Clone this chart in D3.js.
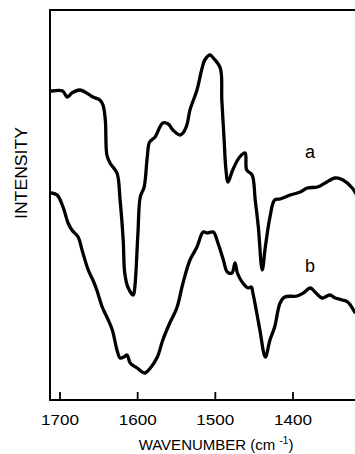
<!DOCTYPE html>
<html>
<head>
<meta charset="utf-8">
<script src="https://cdn.jsdelivr.net/npm/d3@7"></script>
<style>
  body { margin: 0; background: #fff; }
  svg { display: block; font-family: "Liberation Sans", Arial, sans-serif; }
</style>
</head>
<body>
<svg id="chart"></svg>
<script>
// wavenumber (cm-1) and relative intensity
var waveA = [1710, 1696, 1690, 1684, 1674, 1663, 1657, 1648, 1644, 1641, 1639, 1635, 1626, 1622, 1618, 1616, 1612, 1605, 1603, 1599, 1596, 1591, 1587, 1584, 1577, 1567, 1560, 1554, 1545, 1541, 1536, 1532, 1523, 1517, 1513, 1506, 1502, 1493, 1491, 1488, 1486, 1483, 1477, 1468, 1461, 1459, 1452, 1448, 1444, 1439, 1435, 1429, 1423, 1416, 1403, 1390, 1381, 1368, 1358, 1345, 1335, 1323, 1319];
var intensA = [309, 309, 303, 307, 310, 306, 303, 300, 295, 280, 245, 237, 227, 200, 160, 127, 113, 105, 113, 167, 203, 213, 243, 258, 263, 277, 276, 270, 265, 267, 275, 290, 310, 330, 340, 345, 342, 332, 300, 260, 233, 218, 230, 243, 247, 230, 225, 200, 173, 130, 153, 183, 200, 201, 205, 208, 212, 213, 217, 222, 220, 212, 207];

var waveB = [1710, 1703, 1695, 1689, 1684, 1676, 1671, 1663, 1657, 1652, 1645, 1639, 1632, 1626, 1622, 1617, 1613, 1609, 1600, 1590, 1583, 1574, 1567, 1558, 1549, 1541, 1532, 1523, 1515, 1510, 1502, 1496, 1489, 1484, 1478, 1474, 1471, 1464, 1457, 1453, 1451, 1446, 1442, 1435, 1429, 1423, 1416, 1410, 1394, 1386, 1377, 1371, 1362, 1352, 1345, 1336, 1329, 1320];
var intensB = [207, 205, 192, 177, 170, 163, 150, 130, 120, 110, 93, 83, 70, 50, 42, 43, 45, 37, 32, 27, 32, 43, 60, 77, 92, 117, 140, 153, 168, 167, 168, 157, 140, 128, 127, 137, 127, 117, 112, 113, 107, 87, 70, 43, 60, 73, 97, 103, 104, 107, 112, 108, 102, 105, 102, 100, 98, 88];

var xTicks = [1700, 1600, 1500, 1400];
var seriesNames = ['a', 'b'];

var width = 355, height = 454;
var mLeft = 50, mTop = 10, mBottom = 400, mRight = 358;

var svg = d3.select('#chart').attr('width', width).attr('height', height);

var xScale = d3.scaleLinear().domain([1700, 1400]).range([59.5, 292.5]);
var yScale = d3.scaleLinear().domain([0, 390]).range([mBottom, mTop]);

svg.append('defs').append('clipPath').attr('id', 'plot')
  .append('rect').attr('x', mLeft).attr('y', mTop)
  .attr('width', mRight - mLeft).attr('height', mBottom - mTop);

// frame
svg.append('rect')
  .attr('x', mLeft).attr('y', mTop)
  .attr('width', mRight - mLeft).attr('height', mBottom - mTop)
  .attr('fill', 'none').attr('stroke', '#000').attr('stroke-width', 2);

var line = d3.line()
  .curve(d3.curveCatmullRom.alpha(0.5))
  .x(d => xScale(d[0]))
  .y(d => yScale(d[1]));

[[waveA, intensA], [waveB, intensB]].forEach(function (s) {
  svg.append('path')
    .datum(d3.zip(s[0], s[1]))
    .attr('clip-path', 'url(#plot)')
    .attr('fill', 'none')
    .attr('stroke', '#000')
    .attr('stroke-width', 3.3)
    .attr('stroke-linejoin', 'round')
    .attr('stroke-linecap', 'round')
    .attr('d', line);
});

// x axis, ticks pointing inwards
var xAxis = d3.axisBottom(xScale).tickValues(xTicks).tickFormat(d3.format('d'))
  .tickSizeInner(-8).tickSizeOuter(0).tickPadding(14);
var gx = svg.append('g').attr('transform', 'translate(0,' + mBottom + ')').call(xAxis);
gx.select('.domain').remove();
gx.selectAll('.tick line').attr('stroke', '#000').attr('stroke-width', 1.8);
gx.selectAll('.tick text')
  .attr('fill', '#000')
  .attr('font-family', '"Liberation Sans", Arial, sans-serif')
  .attr('font-size', 15)
  .attr('textLength', 38)
  .attr('lengthAdjust', 'spacingAndGlyphs');

// axis titles
var xt = svg.append('text')
  .attr('x', 216).attr('y', 450)
  .attr('text-anchor', 'middle')
  .attr('font-size', 15)
  .attr('fill', '#000');
xt.append('tspan').text('WAVENUMBER (cm ');
xt.append('tspan').attr('font-size', 10).attr('dy', -6).text('-1');
xt.append('tspan').attr('dy', 6).text(')');

svg.append('text')
  .attr('transform', 'translate(27,173) rotate(-90)')
  .attr('text-anchor', 'middle')
  .attr('font-size', 16)
  .attr('textLength', 92)
  .attr('lengthAdjust', 'spacingAndGlyphs')
  .attr('fill', '#000')
  .text('INTENSITY');

// curve labels
var labelY = [158, 272];
seriesNames.forEach(function (n, i) {
  svg.append('text')
    .attr('x', 310).attr('y', labelY[i])
    .attr('text-anchor', 'middle')
    .attr('font-size', 18)
    .attr('fill', '#000')
    .text(n);
});
</script>
</body>
</html>
